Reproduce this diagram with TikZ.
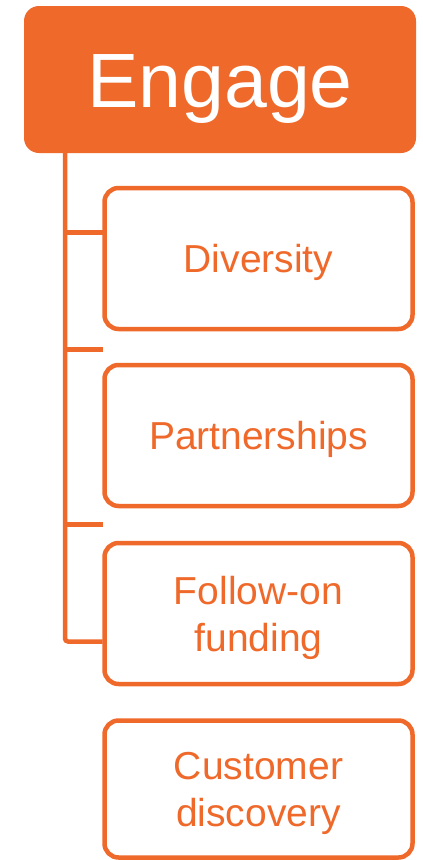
\documentclass[tikz,border=0pt]{standalone}
\usepackage{fontspec}
\setmainfont{Liberation Sans}
\definecolor{eorange}{RGB}{239,105,42}
\begin{document}
\begin{tikzpicture}[x=1pt,y=-1pt,
  headbox/.style={fill=eorange, rounded corners=15pt, text=white, inner sep=0pt,
    minimum width=392pt, minimum height=147pt, text height=56pt, text depth=0pt,
    font=\fontsize{77}{90}\selectfont},
  itembox/.style={draw=eorange, line width=4.5pt, fill=white, rounded corners=14pt,
    text=eorange, inner sep=0pt, minimum width=308pt, minimum height=141pt,
    align=center, text depth=0pt, font=\fontsize{39}{47}\selectfont},
  oneline/.style={text height=28pt},
  twoline/.style={text height=75pt},
  conn/.style={draw=eorange, line width=4.5pt}]
\useasboundingbox (0,0) rectangle (423,860);
\node[headbox] (engage) at (220,79.5) {Engage};
\node[itembox, oneline] (div) at (258.5,258.5) {Diversity};
\node[itembox, oneline] (par) at (258.5,435.5) {Partnerships};
\node[itembox, twoline] (fol) at (258.5,613.5) {Follow-on\\funding};
\node[itembox, twoline, minimum height=137pt] (cus) at (258.5,789) {Customer\\discovery};
\coordinate (t) at (65,150);
\coordinate (e1) at (102.5,232.5);
\coordinate (e2) at (103,349.5);
\coordinate (e3) at (103,524.5);
\coordinate (e4) at (102.5,641.5);
\draw[conn, rounded corners=3pt] (t) |- (e4);
\draw[conn] (t |- e1) -- (e1);
\draw[conn] (t |- e2) -- (e2);
\draw[conn] (t |- e3) -- (e3);
\end{tikzpicture}
\end{document}
